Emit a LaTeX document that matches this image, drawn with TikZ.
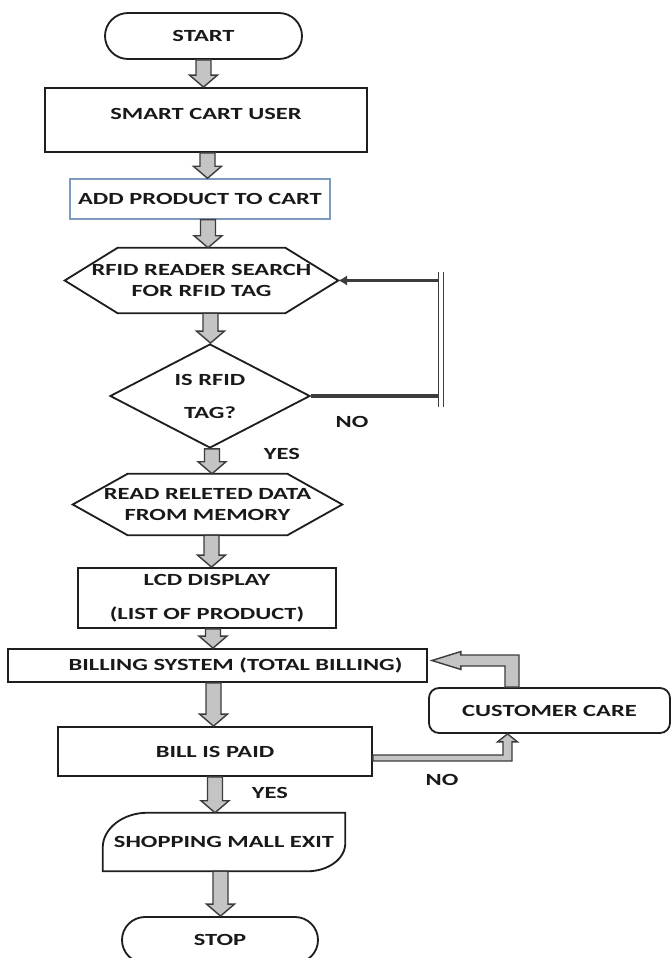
\documentclass[tikz,border=0pt]{standalone}
\usepackage{fontspec}
\setmainfont{Carlito}[FakeStretch=1.44]
\usepackage{tikz}
\usetikzlibrary{shapes,arrows,positioning,calc,arrows.meta}

\newdimen\px
\px=0.025cm

\definecolor{arrowfill}{RGB}{196,196,196}
\definecolor{arrowline}{RGB}{60,60,60}
\definecolor{frameline}{RGB}{30,30,30}
\definecolor{addline}{RGB}{125,155,190}

\tikzset{
    boxline/.style={draw=frameline, line width=1.3pt},
    process/.style={boxline, rectangle, inner sep=2\px, align=center},
    term/.style={boxline, rounded rectangle, inner sep=2\px},
    hexa/.style={rectangle, inner sep=0pt, align=center},
    decision/.style={boxline, diamond, aspect=2, inner sep=0pt, align=center},
    blockarrow/.style={fill=arrowfill, draw=arrowline, line width=1pt,
        to path={let \p1=(\tikztostart), \p2=(\tikztotarget) in
            (\x1-7.5\px,\y1) -- (\x1-7.5\px,\y2+12\px) -- (\x1-14\px,\y2+12\px) -- (\x1,\y2)
            -- (\x1+14\px,\y2+12\px) -- (\x1+7.5\px,\y2+12\px) -- (\x1+7.5\px,\y1) -- cycle}},
    loopline/.style={draw=arrowline, line width=2.3pt},
    barline/.style={draw=arrowline, line width=1.1pt, double=white, double distance=2.6pt},
    elbow/.style={fill=arrowfill, draw=arrowline, line width=1pt}
}

\newcommand{\hexframe}[2]{%
    \draw[boxline] (#1.west) -- ([xshift=#2]#1.north west) -- ([xshift=-#2]#1.north east)
        -- (#1.east) -- ([xshift=-#2]#1.south east) -- ([xshift=#2]#1.south west) -- cycle;}

\begin{document}
\begin{tikzpicture}[x=0.025cm, y=-0.025cm, font=\bfseries\fontsize{12.1pt}{14.9pt}\selectfont, text=black!90]
    \useasboundingbox (0,0) rectangle (671,958);

    % Main column
    \node[term, minimum width=201\px, minimum height=46\px] (start) at (203.5,36) {START};
    \node[process, minimum width=322\px, minimum height=64\px] (user) at (206,120) {SMART CART USER\\[-8\px]\mbox{}};
    \node[process, draw=addline, line width=1pt, minimum width=260\px, minimum height=40\px] (add) at (200,199) {ADD PRODUCT TO CART};
    \node[hexa, minimum width=273\px, minimum height=65\px] (search) at (201.5,280.5) {RFID READER SEARCH\\FOR RFID TAG};
    \node[decision, minimum width=200\px, minimum height=104\px] (istag) at (210,396) {IS RFID\\[12\px]TAG?};
    \node[hexa, minimum width=269\px, minimum height=61\px] (read) at (207.5,504.5) {READ RELETED DATA\\FROM MEMORY};
    \node[process, minimum width=258\px, minimum height=60\px] (lcd) at (207,598) {LCD DISPLAY\\[13\px](LIST OF PRODUCT)};
    \node[process, minimum width=419\px, minimum height=33\px] (billing) at (217.5,665.5) {\hspace*{36\px}BILLING SYSTEM (TOTAL BILLING)};
    \node[process, rounded corners=10\px, minimum width=241\px, minimum height=45\px] (care) at (549.5,710.5) {CUSTOMER CARE};
    \node[process, minimum width=314\px, minimum height=49\px] (paid) at (215,751.5) {BILL IS PAID};
    \node[hexa, minimum width=242\px, minimum height=58\px] (exit) at (224,842) {SHOPPING MALL EXIT};
    \node[term, minimum width=200\px, minimum height=46\px] (stop) at (220,940) {STOP};

    % Outlines of the hexagons and the exit box
    \hexframe{search}{53\px}
    \hexframe{read}{55\px}
    \draw[boxline] (exit.south west) -- ([yshift=-35\px]exit.north west)
        arc[start angle=180, end angle=90, x radius=45\px, y radius=35\px]
        -- (exit.north east) -- ([yshift=28\px]exit.south east)
        arc[start angle=0, end angle=-90, x radius=38\px, y radius=28\px] -- cycle;

    % Block arrows down the column
    \draw[blockarrow] (start.south) to (user.north);
    \draw[blockarrow] ([xshift=1.5\px]user.south) to (add.north);
    \draw[blockarrow] ([xshift=8\px]add.south) to (search.north);
    \draw[blockarrow] ([xshift=9\px]search.south) to (istag.north);
    \draw[blockarrow] ([xshift=2\px]istag.south) to (read.north);
    \draw[blockarrow] ([xshift=4\px]read.south) to (lcd.north);
    \draw[blockarrow] ([xshift=6\px]lcd.south) to (billing.north);
    \draw[blockarrow] ([xshift=-4\px]billing.south) to (paid.north);
    \draw[blockarrow] (paid.south) to (exit.north);
    \draw[blockarrow] ([xshift=-3.5\px]exit.south) to (stop.north);

    % RFID loop
    \coordinate (bartop) at (441,272);
    \coordinate (barbot) at (441,407);
    \draw[loopline] (istag.east) -- (istag.east -| bartop);
    \draw[loopline, -{Latex[length=0.22cm,width=0.26cm]}] (search.east -| bartop) -- (search.east);
    \draw[barline] (bartop) -- (barbot);

    % Customer care loop
    \coordinate (careup) at ([xshift=-37.5\px]care.north);
    \coordinate (carein) at ([xshift=-42\px]care.south);
    \draw[elbow] let \p1=(careup), \p2=([xshift=4\px,yshift=5\px]billing.east) in
        (\x1-7\px,\y1) -- (\x1-7\px,\y2-5.5\px) -- (\x2+29\px,\y2-5.5\px) -- (\x2+29\px,\y2-9\px)
        -- (\x2,\y2) -- (\x2+29\px,\y2+9\px) -- (\x2+29\px,\y2+5.5\px) -- (\x1+7\px,\y2+5.5\px)
        -- (\x1+7\px,\y1) -- cycle;
    \draw[elbow] let \p1=([yshift=-6.5\px]paid.east), \p2=(carein) in
        (\x1,\y1+3\px) -- (\x2-4.5\px,\y1+3\px) -- (\x2-4.5\px,\y2-8\px) -- (\x2-10\px,\y2-8\px)
        -- (\x2,\y2) -- (\x2+10\px,\y2-8\px) -- (\x2+4.5\px,\y2-8\px) -- (\x2+4.5\px,\y1-3\px)
        -- (\x1,\y1-3\px) -- cycle;

    % Labels
    \node (tagno) at (352,422) {NO};
    \node (tagyes) at (282,454) {YES};
    \node (paidno) at (442,780) {NO};
    \node (paidyes) at (270,793) {YES};
\end{tikzpicture}
\end{document}
